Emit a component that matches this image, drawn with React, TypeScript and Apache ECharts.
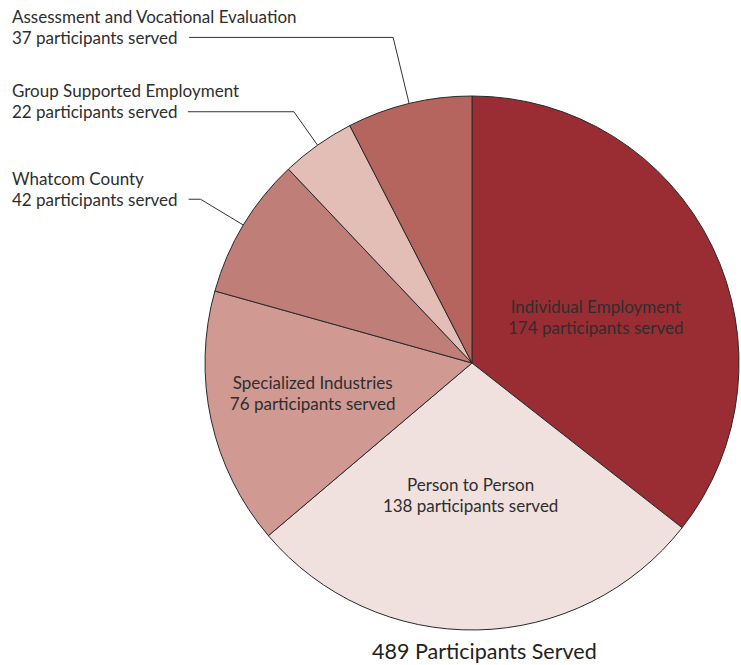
import React, { useEffect, useRef } from "react";
import * as echarts from "echarts";

const categories = [
  "Individual Employment",
  "Person to Person",
  "Specialized Industries",
  "Whatcom County",
  "Group Supported Employment",
  "Assessment and Vocational Evaluation",
];
const values = [174, 138, 76, 42, 22, 37];
const colors = ["#9A2D33", "#F0E1DF", "#D09A93", "#C07E78", "#E3BEB6", "#B6645E"];
const totalLabel = "489 Participants Served";
const outsideNames = ["Whatcom County", "Group Supported Employment", "Assessment and Vocational Evaluation"];
const lineLengths: Record<string, [number, number]> = {
  "Whatcom County": [50, 12],
  "Group Supported Employment": [41, 106],
  "Assessment and Vocational Evaluation": [68, 204],
};
const insideShift: Record<string, [number, number]> = {
  "Individual Employment": [1, 14],
  "Person to Person": [-4, -4],
  "Specialized Industries": [-26, 1],
};

const FONT = "Lato, 'Open Sans', sans-serif";

export default function App() {
  const ref = useRef<HTMLDivElement>(null);
  useEffect(() => {
    if (!ref.current) return;
    const chart = echarts.init(ref.current, null, { renderer: "svg" });
    const data = categories.map((name, i) => {
      const outside = outsideNames.includes(name);
      return {
        name,
        value: values[i],
        itemStyle: { color: colors[i] },
        label: outside
          ? {
              position: "outside",
              alignTo: "edge",
              edgeDistance: 12,
              align: "left",
              formatter: (p: any) => `${p.name}\n${p.value} participants served\n `,
            }
          : { position: "inside" },
        labelLine: outside
          ? { show: true, length: lineLengths[name][0], length2: lineLengths[name][1] }
          : { show: false },
      };
    });
    chart.setOption({
      animation: false,
      title: {
        text: totalLabel,
        left: 367,
        top: 635,
        textStyle: { fontFamily: FONT, fontSize: 21.5, fontWeight: "normal", color: "#222" },
      },
      series: [
        {
          type: "pie",
          center: [472, 363],
          radius: 267,
          startAngle: 90,
          clockwise: true,
          avoidLabelOverlap: false,
          itemStyle: { borderColor: "#2a2a2a", borderWidth: 1 },
          label: {
            formatter: (p: any) => `${p.name}\n${p.value} participants served`,
            fontFamily: FONT,
            fontSize: 17,
            lineHeight: 21,
            color: "#2e2e2e",
            distanceToLabelLine: 6,
          },
          labelLine: { lineStyle: { color: "#333", width: 1 } },
          labelLayout: (p: any) => {
            const name = categories[p.dataIndex];
            const s = insideShift[name];
            return s ? { dx: s[0], dy: s[1] } : {};
          },
          emphasis: { disabled: true },
          data,
        },
      ],
    });
    return () => chart.dispose();
  }, []);
  return (
    <div
      ref={ref}
      style={{ position: "fixed", left: 0, top: 0, width: 741, height: 665, background: "#fff" }}
    />
  );
}
